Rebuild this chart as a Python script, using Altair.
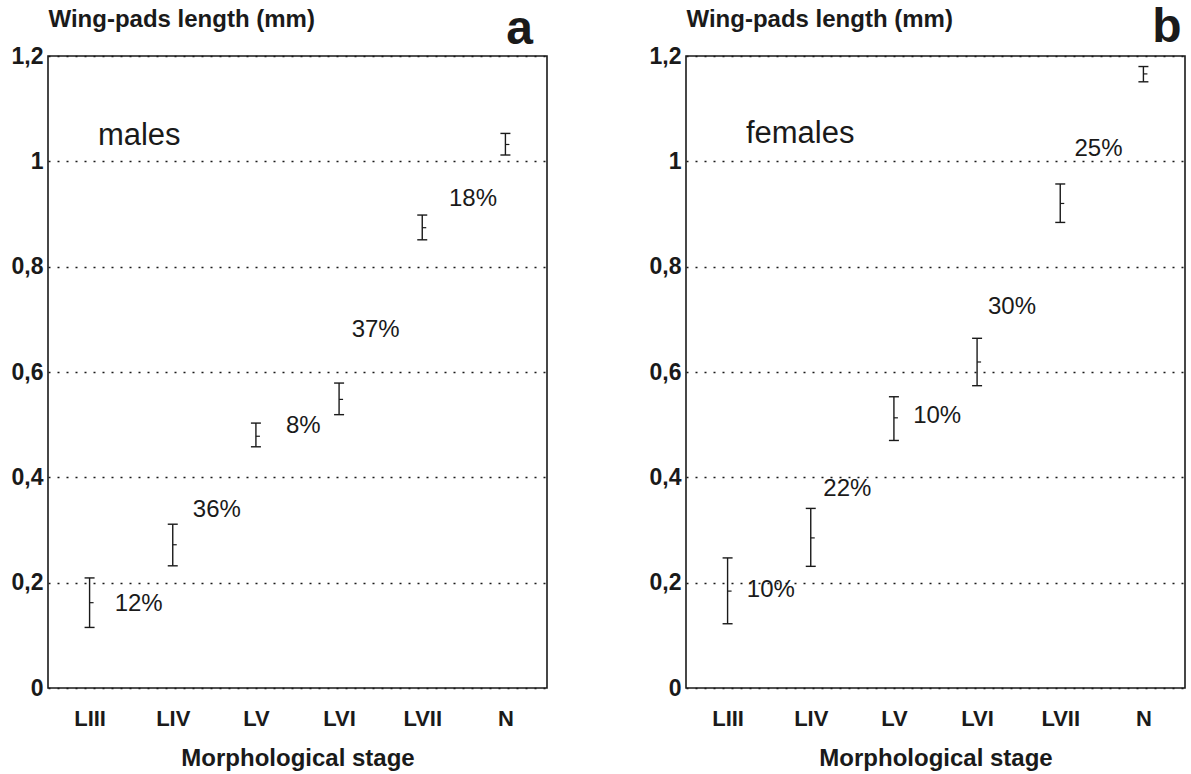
import altair as alt
import pandas as pd

# ---------------- data ----------------
stages = ["LIII", "LIV", "LV", "LVI", "LVII", "N"]
stage_idx = [0, 1, 2, 3, 4, 5]

male_mean = [0.162, 0.272, 0.478, 0.548, 0.874, 1.032]
male_low = [0.115, 0.232, 0.458, 0.519, 0.851, 1.012]
male_high = [0.209, 0.311, 0.503, 0.579, 0.898, 1.053]

female_mean = [0.184, 0.285, 0.513, 0.619, 0.920, 1.166]
female_low = [0.122, 0.231, 0.470, 0.574, 0.884, 1.151]
female_high = [0.247, 0.341, 0.553, 0.664, 0.957, 1.180]

male_pct_text = ["12%", "36%", "8%", "37%", "18%"]
male_pct_x = [0.59, 1.53, 2.57, 3.44, 4.61]
male_pct_y = [0.159, 0.338, 0.497, 0.680, 0.929]

female_pct_text = ["10%", "22%", "10%", "30%", "25%"]
female_pct_x = [0.52, 1.44, 2.52, 3.42, 4.46]
female_pct_y = [0.187, 0.377, 0.517, 0.723, 1.024]

group_labels = ["males", "females"]
group_label_x = [0.10, 0.22]
group_label_y = [1.048, 1.052]

panel_letters = ["a", "b"]
panel_letter_x = [5.33, 5.46]
panel_letter_y = [1.222, 1.226]

y_ticks = [0, 0.2, 0.4, 0.6, 0.8, 1.0, 1.2]

FONT = "Liberation Sans"
INK = "#1a1a1a"

label_expr_x = "[" + ",".join("'%s'" % s for s in stages) + "][datum.value]"


def panel(mean, low, high, pct_text, pct_x, pct_y, k):
    df = pd.DataFrame({"i": stage_idx, "stage": stages, "mean": mean,
                       "low": low, "high": high})
    pct = pd.DataFrame({"x": pct_x, "y": pct_y, "t": pct_text})
    lab = pd.DataFrame({"x": [group_label_x[k]], "y": [group_label_y[k]],
                        "t": [group_labels[k]]})
    let = pd.DataFrame({"x": [panel_letter_x[k]], "y": [panel_letter_y[k]],
                        "t": [panel_letters[k]]})

    xs = alt.Scale(domain=[-0.5, 5.5], nice=False, zero=False)
    ys = alt.Scale(domain=[0, 1.2], nice=False)

    x_axis = alt.Axis(values=stage_idx, labelExpr=label_expr_x, grid=False,
                      ticks=False, domain=False, labelFont=FONT,
                      labelFontSize=22, labelFontWeight="bold",
                      labelColor=INK, labelPadding=20,
                      title="Morphological stage", titleFont=FONT,
                      titleFontSize=24, titleFontWeight="bold",
                      titleColor=INK, titlePadding=17)
    y_axis = alt.Axis(values=y_ticks,
                      labelExpr="replace(format(datum.value, '.1~f'), '.', ',')",
                      grid=True, gridColor=INK, gridDash=[2, 7], gridWidth=1.4,
                      ticks=False, domain=False, labelFont=FONT,
                      labelFontSize=23, labelFontWeight="bold",
                      labelColor=INK, labelPadding=5,
                      title="Wing-pads length (mm)", titleFont=FONT,
                      titleFontSize=24, titleFontWeight="bold",
                      titleColor=INK, titleAngle=0, titleAlign="left",
                      titleBaseline="alphabetic", titleX=0, titleY=-30)

    base = alt.Chart(df)
    stem = base.mark_rule(color=INK, strokeWidth=1.4).encode(
        x=alt.X("i:Q", scale=xs, axis=x_axis),
        y=alt.Y("low:Q", scale=ys, axis=y_axis),
        y2="high:Q")
    cap_hi = base.mark_rule(color=INK, strokeWidth=1.4, xOffset=-5,
                            x2Offset=5).encode(x="i:Q", x2="i:Q", y="high:Q")
    cap_lo = base.mark_rule(color=INK, strokeWidth=1.4, xOffset=-5,
                            x2Offset=5).encode(x="i:Q", x2="i:Q", y="low:Q")
    mid = base.mark_rule(color=INK, strokeWidth=1.2, xOffset=0,
                         x2Offset=4).encode(x="i:Q", x2="i:Q", y="mean:Q")
    pct_txt = alt.Chart(pct).mark_text(font=FONT, fontSize=24, color=INK,
                                       align="center", baseline="middle").encode(
        x="x:Q", y="y:Q", text="t:N")
    lab_txt = alt.Chart(lab).mark_text(font=FONT, fontSize=31, color=INK,
                                       align="left", baseline="middle").encode(
        x="x:Q", y="y:Q", text="t:N")
    let_txt = alt.Chart(let).mark_text(font=FONT, fontSize=48, fontWeight="bold",
                                       color=INK, align="right",
                                       baseline="alphabetic").encode(
        x="x:Q", y="y:Q", text="t:N")
    return alt.layer(stem, cap_hi, cap_lo, mid, pct_txt, lab_txt, let_txt).properties(
        width=499, height=632)


pa = panel(male_mean, male_low, male_high, male_pct_text, male_pct_x, male_pct_y, 0)
pb = panel(female_mean, female_low, female_high, female_pct_text, female_pct_x,
           female_pct_y, 1)

chart = alt.hconcat(pa, pb, spacing=100).properties(
    padding={"left": 10, "top": 3, "right": 5, "bottom": 0},
    background="white"
).configure_view(stroke=INK, strokeWidth=1.6)

chart.save("out.html", embed_options={"renderer": "svg", "actions": False})
